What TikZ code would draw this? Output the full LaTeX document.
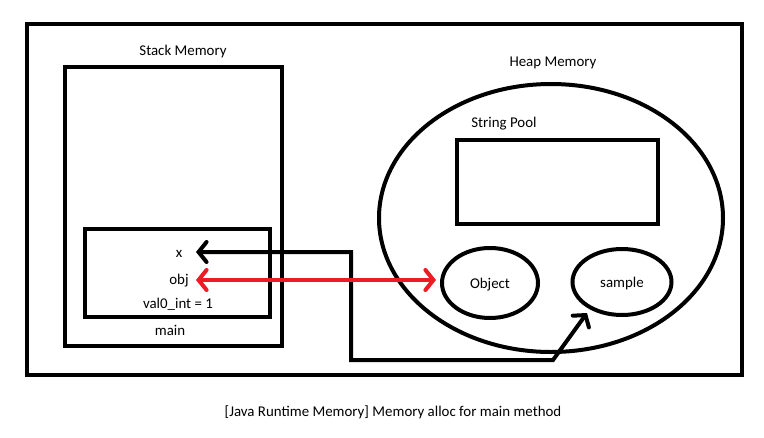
\documentclass[tikz,border=0pt]{standalone}
\usepackage{fontspec}
\setmainfont{Carlito}
\usetikzlibrary{arrows.meta,shapes.geometric}
\definecolor{paintred}{HTML}{ED1C24}
\tikzset{
  thick4/.style={line width=4pt, draw=black},
  lbl/.style={font=\fontsize{14.9}{17}\selectfont, inner sep=0pt, text=black, yshift=-2pt},
  bothbarb/.style={{Straight Barb[length=8pt,width=20pt,line cap=round]}-{Straight Barb[length=8pt,width=20pt,line cap=round]}},
}
\begin{document}
\begin{tikzpicture}[x=1pt,y=-1pt]
\useasboundingbox[fill=white] (0,0) rectangle (764,437);
% outer frame
\draw[thick4] (27,24) rectangle (742,375);
% stack
\draw[thick4] (65,67) rectangle (282,346);
\node[lbl] (stacklbl) at (183,50) {Stack Memory};
% main frame
\draw[thick4] (85,229) rectangle (270,317);
\node[lbl] (x) at (179,252) {x};
\node[lbl] (obj) at (179,279) {obj};
\node[lbl] (val) at (178,302) {val0\_int = 1};
\node[lbl] (mainlbl) at (170,328) {main};
% heap
\draw[thick4] (551,218) ellipse [x radius=172, y radius=134];
\node[lbl] (heaplbl) at (553,61) {Heap Memory};
\node[lbl] (poollbl) at (504,122) {String Pool};
\draw[thick4] (457,140) rectangle (658,224);
\node[thick4, ellipse, minimum width=96pt, minimum height=70pt, draw, inner sep=0pt] (object) at (490,283) {};
\node[lbl] at (object.center) {Object};
\node[thick4, ellipse, minimum width=99pt, minimum height=66pt, draw, inner sep=0pt] (sample) at (622,282) {};
\node[lbl] at (sample.center) {sample};
% arrows
\coordinate (xa) at (196,252);
\coordinate (c1) at (351,252);
\coordinate (c2) at (351,360);
\coordinate (c3) at (553,360);
\coordinate (tip) at (587,313);
\draw[thick4, line join=miter, bothbarb] (xa) -- (c1) -- (c2) -- (c3) -- (tip);
\coordinate (oa) at (196,280);
\coordinate (ob) at (436,280);
\draw[line width=4pt, draw=paintred, bothbarb] (oa) -- (ob);
% caption
\node[lbl] (caption) at (393,410) {[Java Runtime Memory] Memory alloc for main method};
\end{tikzpicture}
\end{document}
